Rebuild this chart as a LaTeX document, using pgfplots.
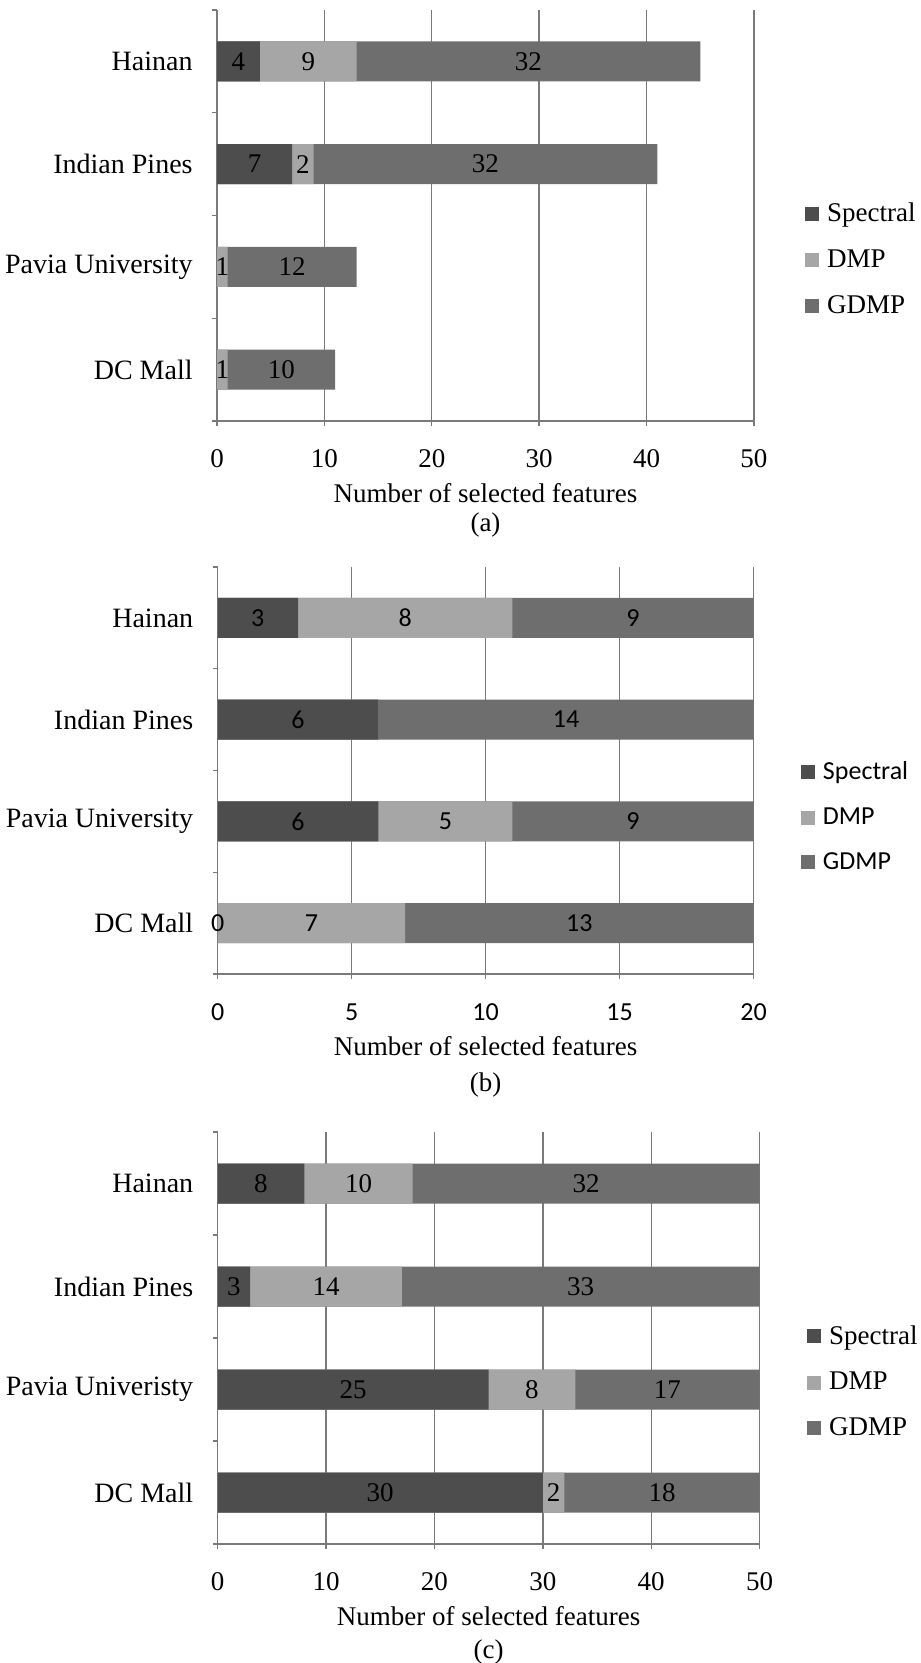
\documentclass[border=0pt]{standalone}
\usepackage{fontspec}
\setmainfont{Liberation Serif}
\newfontfamily\sansfeat{Carlito}
\usepackage{pgfplots}
\usepackage{pgfplotstable}
\pgfplotsset{compat=1.18}

\definecolor{specC}{RGB}{77,77,77}
\definecolor{dmpC}{RGB}{166,166,166}
\definecolor{gdmpC}{RGB}{110,110,110}
\definecolor{gridC}{RGB}{122,122,122}

\newcommand{\fs}{\fontsize{13.5}{16}\selectfont}
\newcommand{\fcat}{\fontsize{14}{16.8}\selectfont}
\newcommand{\fsans}{\sansfeat\fontsize{13}{15.6}\selectfont}

% rows: pos 3 is drawn at the top
\pgfplotstableread{
pos spec dmp gdmp
3 4 9 32
2 7 2 32
1 0 1 12
0 0 1 10
}\dataA
\pgfplotstableread{
pos spec dmp gdmp
3 3 8 9
2 6 0 14
1 6 5 9
0 0 7 13
}\dataB
\pgfplotstableread{
pos spec dmp gdmp
3 8 10 32
2 3 14 33
1 25 8 17
0 30 2 18
}\dataC

\pgfplotsset{
  featbars/.style={
    scale only axis, clip=false,
    xmin=0, ymin=-0.5, ymax=3.5,
    axis x line*=bottom, axis y line*=left,
    x axis line style={-, draw=gridC, line width=0.8pt},
    y axis line style={-, draw=gridC, line width=0.7pt},
    xmajorgrids, grid style={draw=gridC, line width=0.7pt},
    tick align=outside, major tick length=2.5pt,
    tick style={draw=gridC, line width=0.7pt},
    ytick={-0.5,0.5,1.5,2.5,3.5}, yticklabels={},
    extra y ticks={0,1,2,3},
    extra y tick style={major tick length=0pt,
      tick label style={anchor=east, inner sep=0pt, xshift=-12pt, font=\fcat}},
    /pgf/number format/assume math mode=true,
    xticklabel style={anchor=center, yshift=-16.5pt},
    xlabel={Number of selected features},
    xlabel style={at={(axis description cs:0.5,0)}, anchor=center, yshift=-36pt, font=\fs},
    legend style={draw=none, fill=none, anchor=west, inner sep=0pt,
      font=\fs, row sep=8.5pt, column sep=2pt},
    legend cell align=left,
  },
  segbar/.style={xbar, bar width=20pt, bar shift=0pt, draw=none, fill=#1, forget plot},
  seglabel/.style={draw=none, mark=none, forget plot, nodes near coords,
    point meta=explicit, nodes near coords align={center},
    every node near coord/.append style={anchor=center, inner sep=0pt, font=#1}},
  legsq/.style={legend image code/.code={\fill[#1] (0pt,-3.25pt) rectangle (6.5pt,3.25pt);}},
}

\begin{document}
\begin{tikzpicture}
\useasboundingbox (0pt,0pt) rectangle (460pt,-831.5pt);

% ---------------- (a) ----------------
\begin{axis}[featbars,
  at={(108.5pt,-210.5pt)}, anchor=south west,
  width=268.5pt, height=205.5pt,
  xmax=50, xtick={0,10,20,30,40,50},
  tick label style={font=\fs},
  extra y tick labels={DC Mall, Pavia University, Indian Pines, Hainan},
  legend style={at={(rel axis cs:1.095,0.392)}},
]
\addplot[segbar=gdmpC] table[x expr=\thisrow{spec}+\thisrow{dmp}+\thisrow{gdmp}, y=pos] {\dataA};
\addplot[segbar=dmpC] table[x expr=\thisrow{spec}+\thisrow{dmp}, y=pos] {\dataA};
\addplot[segbar=specC] table[x=spec, y=pos] {\dataA};
\addplot[seglabel=\fs, restrict expr to domain={\thisrow{spec}}{0.5:1000}] table[x expr=\thisrow{spec}/2, y=pos, meta=spec] {\dataA};
\addplot[seglabel=\fs] table[x expr=\thisrow{spec}+\thisrow{dmp}/2, y=pos, meta=dmp] {\dataA};
\addplot[seglabel=\fs] table[x expr=\thisrow{spec}+\thisrow{dmp}+\thisrow{gdmp}/2, y=pos, meta=gdmp] {\dataA};
\addlegendimage{legsq=specC}\addlegendentry{Spectral}
\addlegendimage{legsq=dmpC}\addlegendentry{DMP}
\addlegendimage{legsq=gdmpC}\addlegendentry{GDMP}
\node[font=\fs] at (axis description cs:0.5,0) [yshift=-52pt] {(a)};
\end{axis}

% ---------------- (b) ----------------
\begin{axis}[featbars,
  at={(108.8pt,-487pt)}, anchor=south west,
  width=268pt, height=203.5pt,
  xmax=20, xtick={0,5,10,15,20},
  tick label style={font=\fsans},
  extra y tick labels={DC Mall, Pavia University, Indian Pines, Hainan},
  legend style={at={(rel axis cs:1.088,0.386)}, font=\fsans},
]
\addplot[segbar=gdmpC] table[x expr=\thisrow{spec}+\thisrow{dmp}+\thisrow{gdmp}, y=pos] {\dataB};
\addplot[segbar=dmpC] table[x expr=\thisrow{spec}+\thisrow{dmp}, y=pos] {\dataB};
\addplot[segbar=specC] table[x=spec, y=pos] {\dataB};
\addplot[seglabel=\fsans] table[x expr=\thisrow{spec}/2, y=pos, meta=spec] {\dataB};
\addplot[seglabel=\fsans, restrict expr to domain={\thisrow{dmp}}{0.5:1000}] table[x expr=\thisrow{spec}+\thisrow{dmp}/2, y=pos, meta=dmp] {\dataB};
\addplot[seglabel=\fsans] table[x expr=\thisrow{spec}+\thisrow{dmp}+\thisrow{gdmp}/2, y=pos, meta=gdmp] {\dataB};
\addlegendimage{legsq=specC}\addlegendentry{Spectral}
\addlegendimage{legsq=dmpC}\addlegendentry{DMP}
\addlegendimage{legsq=gdmpC}\addlegendentry{GDMP}
\node[font=\fs] at (axis description cs:0.5,0) [yshift=-55.5pt] {(b)};
\end{axis}

% ---------------- (c) ----------------
\begin{axis}[featbars,
  at={(108.8pt,-772pt)}, anchor=south west,
  width=271pt, height=206pt,
  xmax=50, xtick={0,10,20,30,40,50},
  tick label style={font=\fs},
  extra y tick labels={DC Mall, Pavia Univeristy, Indian Pines, Hainan},
  legend style={at={(rel axis cs:1.0875,0.393)}},
]
\addplot[segbar=gdmpC] table[x expr=\thisrow{spec}+\thisrow{dmp}+\thisrow{gdmp}, y=pos] {\dataC};
\addplot[segbar=dmpC] table[x expr=\thisrow{spec}+\thisrow{dmp}, y=pos] {\dataC};
\addplot[segbar=specC] table[x=spec, y=pos] {\dataC};
\addplot[seglabel=\fs] table[x expr=\thisrow{spec}/2, y=pos, meta=spec] {\dataC};
\addplot[seglabel=\fs] table[x expr=\thisrow{spec}+\thisrow{dmp}/2, y=pos, meta=dmp] {\dataC};
\addplot[seglabel=\fs] table[x expr=\thisrow{spec}+\thisrow{dmp}+\thisrow{gdmp}/2, y=pos, meta=gdmp] {\dataC};
\addlegendimage{legsq=specC}\addlegendentry{Spectral}
\addlegendimage{legsq=dmpC}\addlegendentry{DMP}
\addlegendimage{legsq=gdmpC}\addlegendentry{GDMP}
\node[font=\fs] at (axis description cs:0.5,0) [yshift=-54pt] {(c)};
\end{axis}
\end{tikzpicture}
\end{document}
